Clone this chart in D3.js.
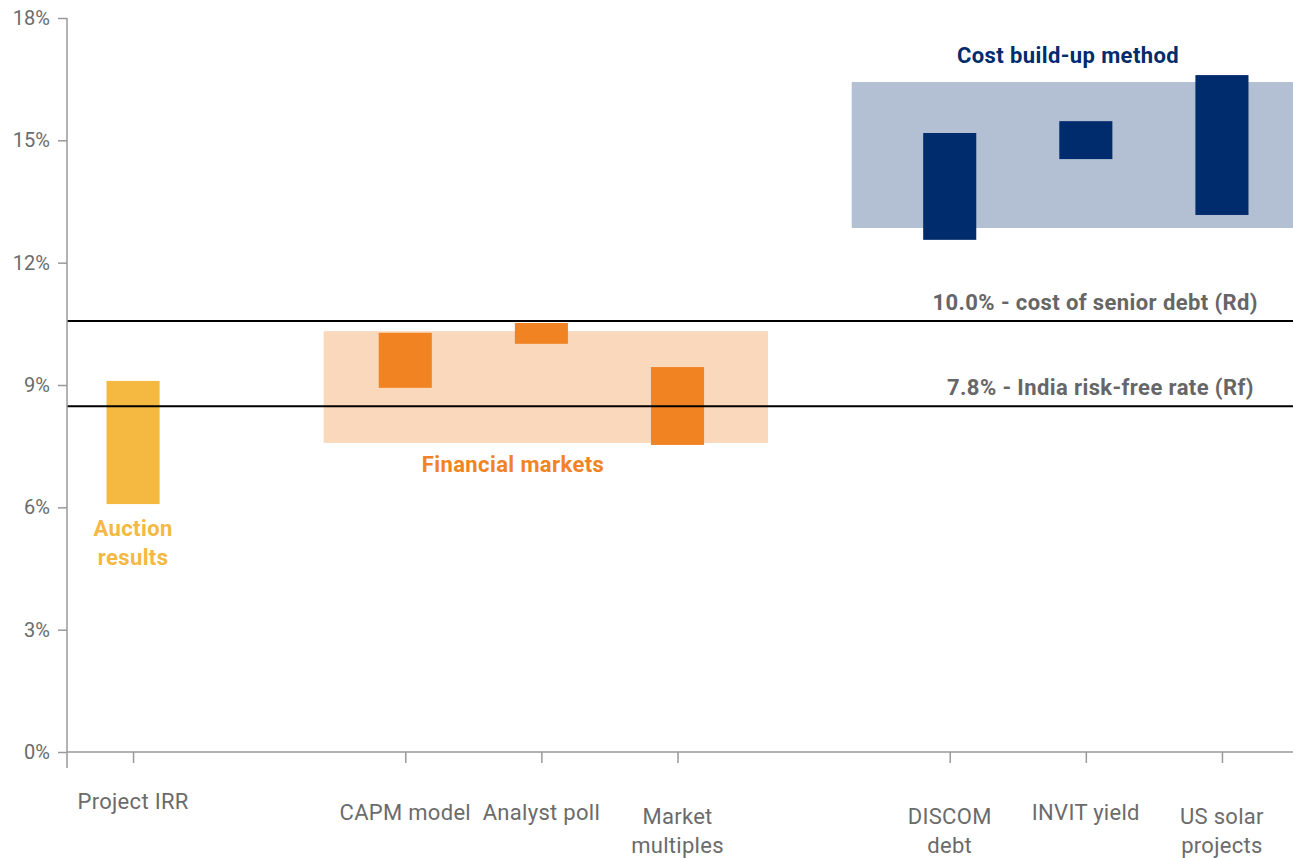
<!DOCTYPE html>
<html>
<head>
<meta charset="utf-8">
<script src="https://cdn.jsdelivr.net/npm/d3@7"></script>
<style>
  html, body { margin: 0; padding: 0; background: #fff; }
  svg { display: block; }
  text { font-family: Roboto, "Noto Sans", sans-serif; }
</style>
</head>
<body>
<svg id="chart" width="1293" height="858"></svg>
<script>
// ---- data ----
const categories = ["Project IRR", "", "CAPM model", "Analyst poll", "Market multiples", "", "DISCOM debt", "INVIT yield", "US solar projects"];
const labelLines = [["Project IRR"], [], ["CAPM model"], ["Analyst poll"], ["Market", "multiples"], [], ["DISCOM", "debt"], ["INVIT yield"], ["US solar", "projects"]];
const barGroup = ["auction", null, "financial", "financial", "financial", null, "cost", "cost", "cost"];
const barLow  = [6.08, null, 8.93, 10.01, 7.53, null, 12.56, 14.54, 13.17];
const barHigh = [9.10, null, 10.28, 10.52, 9.44, null, 15.18, 15.47, 16.60];
const yTicks = [0, 3, 6, 9, 12, 15, 18];
const bands = [
  { name: "financial", fromIdx: 1.40, toIdx: 4.665, low: 7.58, high: 10.32 },
  { name: "cost", fromIdx: 5.28, toIdx: 8.6, low: 12.85, high: 16.43 }
];
const refLines = [
  { value: 10.57, label: "10.0% - cost of senior debt (Rd)" },
  { value: 8.48, label: "7.8% - India risk-free rate (Rf)" }
];
const groupLabels = [
  { group: "auction", lines: ["Auction", "results"] },
  { group: "financial", lines: ["Financial markets"] },
  { group: "cost", lines: ["Cost build-up method"] }
];

// ---- styles ----
const colors = {
  auction: "#F5B841",
  financial: "#F28322",
  cost: "#002B6C",
  financialBand: "#FAD8BC",
  costBand: "#B3C0D4"
};

const svg = d3.select("#chart");
const x = d3.scaleLinear().domain([-0.5, 8.5]).range([65, 1290]);
const y = d3.scaleLinear().domain([0, 18]).range([752, 18]);
const step = x(1) - x(0);
const barW = step * 0.39;

// bands
svg.append("g").selectAll("rect").data(bands).join("rect")
  .attr("x", d => x(d.fromIdx))
  .attr("width", d => x(d.toIdx) - x(d.fromIdx))
  .attr("y", d => y(d.high))
  .attr("height", d => y(d.low) - y(d.high))
  .attr("fill", d => colors[d.name + "Band"]);

// bars
const barData = categories.map((c, i) => ({ i, c, low: barLow[i], high: barHigh[i], g: barGroup[i] })).filter(d => d.g);
svg.append("g").selectAll("rect").data(barData).join("rect")
  .attr("x", d => x(d.i) - barW / 2)
  .attr("width", barW)
  .attr("y", d => y(d.high))
  .attr("height", d => y(d.low) - y(d.high))
  .attr("fill", d => colors[d.g]);

// reference lines
const rl = svg.append("g");
rl.selectAll("line").data(refLines).join("line")
  .attr("x1", 67).attr("x2", 1293)
  .attr("y1", d => y(d.value)).attr("y2", d => y(d.value))
  .attr("stroke", "#000").attr("stroke-width", 2);
rl.selectAll("text").data(refLines).join("text")
  .attr("x", (d, i) => i === 0 ? 1258 : 1254)
  .attr("y", d => y(d.value) - 11)
  .attr("text-anchor", "end")
  .attr("font-size", 22).attr("font-weight", "bold").attr("letter-spacing", 0.4)
  .attr("fill", "#666")
  .text(d => d.label);

// y axis
const yAxis = svg.append("g").attr("transform", "translate(67,0)")
  .call(d3.axisLeft(y).tickValues(yTicks).tickFormat(d => d + "%").tickSize(9).tickPadding(8));
yAxis.select(".domain").remove();
yAxis.selectAll(".tick line").attr("stroke", "#999").attr("stroke-width", 1.5);
yAxis.selectAll(".tick text").attr("fill", "#6b6b6b").attr("font-size", 20).attr("font-family", "Roboto, sans-serif");
svg.append("line").attr("x1", 67).attr("x2", 67).attr("y1", y(18)).attr("y2", 768)
  .attr("stroke", "#999").attr("stroke-width", 1.5);

// x axis
const xTickIdx = categories.map((c, i) => i).filter(i => categories[i] !== "");
const xAxis = svg.append("g").attr("transform", `translate(0,${y(0)})`)
  .call(d3.axisBottom(x).tickValues(xTickIdx).tickFormat("").tickSize(11));
xAxis.select(".domain").remove();
xAxis.selectAll(".tick line").attr("stroke", "#999").attr("stroke-width", 1.5);
svg.append("line").attr("x1", 67).attr("x2", 1293).attr("y1", y(0)).attr("y2", y(0))
  .attr("stroke", "#999").attr("stroke-width", 1.5);

// category labels
const catLab = svg.append("g");
xTickIdx.forEach(i => {
  const lines = labelLines[i];
  const baseY = i === 0 ? 809 : (lines.length === 1 ? 820 : 824);
  const t = catLab.append("text")
    .attr("x", x(i)).attr("y", baseY)
    .attr("text-anchor", "middle")
    .attr("font-size", 22).attr("letter-spacing", 0.3).attr("fill", "#6b6b6b");
  lines.forEach((l, k) => t.append("tspan").attr("x", x(i)).attr("dy", k === 0 ? 0 : 29).text(l));
});

// group labels
const glPos = {
  auction: { x: x(0), y: 536 },
  financial: { x: 513, y: 472 },
  cost: { x: 1068, y: 63 }
};
groupLabels.forEach(g => {
  const p = glPos[g.group];
  const t = svg.append("text")
    .attr("x", p.x).attr("y", p.y)
    .attr("text-anchor", "middle")
    .attr("font-size", 22).attr("font-weight", "bold").attr("letter-spacing", 0.4)
    .attr("fill", colors[g.group]);
  g.lines.forEach((l, k) => t.append("tspan").attr("x", p.x).attr("dy", k === 0 ? 0 : 29).text(l));
});
</script>
</body>
</html>
